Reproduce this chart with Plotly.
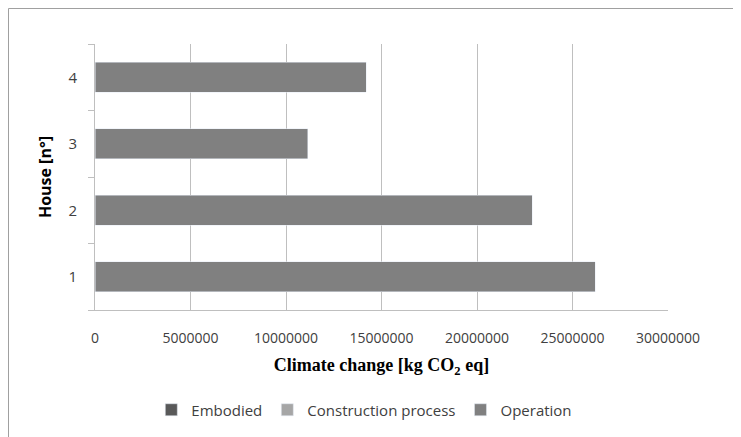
import plotly.graph_objects as go

houses = ["1", "2", "3", "4"]
embodied = [0, 0, 0, 0]
construction = [0, 0, 0, 0]
operation = [26200000, 22900000, 11150000, 14200000]
x_ticks = [0, 5000000, 10000000, 15000000, 20000000, 25000000, 30000000]

fig = go.Figure()
fig.add_trace(go.Bar(y=houses, x=embodied, name="Embodied", orientation="h",
                     marker=dict(color="#595959")))
fig.add_trace(go.Bar(y=houses, x=construction, name="Construction process", orientation="h",
                     marker=dict(color="#a6a6a6")))
fig.add_trace(go.Bar(y=houses, x=operation, name="Operation", orientation="h",
                     marker=dict(color="#808080")))

# page has an 8px body margin, so figure coordinates are offset by 8px
L, R, T, B = 87, 660, 36, 302
W, H = 741, 437

def px(x):
    return (x - L) / (R - L)

def py(y):
    return (B - y) / (B - T)

fig.update_layout(
    width=W, height=H,
    margin=dict(l=L, r=W - R, t=T, b=H - B, autoexpand=False),
    barmode="stack",
    bargap=0.55,
    plot_bgcolor="white",
    paper_bgcolor="white",
    font=dict(family="Open Sans", color="#404040", size=13),
    showlegend=True,
    legend=dict(orientation="h", x=0.47, xanchor="center", y=py(402), yanchor="middle",
                font=dict(size=15, color="#404040"), itemwidth=30,
                traceorder="normal"),
    xaxis=dict(
        range=[0, 30000000], tickvals=x_ticks, ticktext=[str(v) for v in x_ticks],
        showgrid=True, gridcolor="#bfbfbf", gridwidth=1, automargin=False,
        showline=True, linecolor="#bfbfbf", ticks="", zeroline=False,
        tickfont=dict(size=14, color="#404040"), ticklabelstandoff=15,
        title=dict(text="Climate change [kg CO<sub>2</sub> eq]",
                   font=dict(family="Liberation Serif", size=18, color="black", weight="bold"),
                   standoff=12),
    ),
    yaxis=dict(
        showline=True, linecolor="#bfbfbf", ticks="outside", tickson="boundaries",
        ticklen=6, tickcolor="#bfbfbf", showgrid=False, automargin=False,
        tickfont=dict(size=15, color="#404040"), ticklabelstandoff=14,
        title=dict(text="House [n°]",
                   font=dict(family="Open Sans", size=16, color="black", weight="bold"),
                   standoff=12),
    ),
    shapes=[dict(type="rect", xref="paper", yref="paper",
                 x0=px(0.5), x1=px(760), y0=py(460), y1=py(0.5),
                 line=dict(color="#a0a0a0", width=1), fillcolor="rgba(0,0,0,0)", layer="below")],
)

fig.write_html("out.html")
